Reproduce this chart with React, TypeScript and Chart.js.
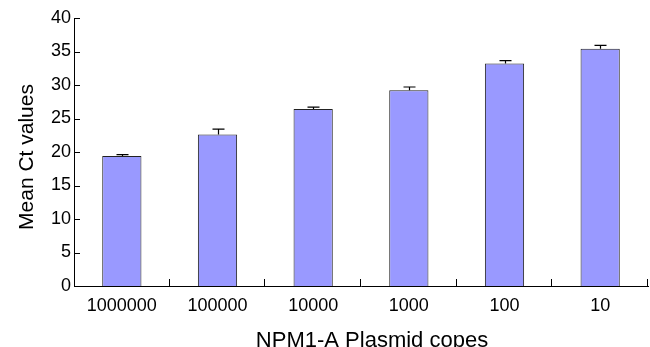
import React, { useEffect, useRef } from "react";
import { Chart, registerables } from "chart.js";

Chart.register(...registerables);

const categories = ["1000000", "100000", "10000", "1000", "100", "10"];
const meanCt = [19.4, 22.6, 26.4, 29.2, 33.2, 35.4];
const errorUp = [0.2, 0.8, 0.3, 0.5, 0.45, 0.5];
const yTicks = [0, 5, 10, 15, 20, 25, 30, 35, 40];
const xTitle = "NPM1-A Plasmid copes";
const yTitle = "Mean Ct values";

const FONT = "'Liberation Sans', Arial, Helvetica, sans-serif";

const decorPlugin = {
  id: "decor",
  afterDatasetsDraw(chart: any) {
    const ctx = chart.ctx;
    const ys = chart.scales.y;
    const area = chart.chartArea;
    ctx.save();
    // error bars
    const meta = chart.getDatasetMeta(0);
    ctx.strokeStyle = "#000";
    ctx.lineWidth = 1.2;
    meta.data.forEach((bar: any, i: number) => {
      const x = Math.round(bar.x) + 0.5;
      const yTop = ys.getPixelForValue(meanCt[i] + errorUp[i]);
      const yBar = ys.getPixelForValue(meanCt[i]);
      ctx.beginPath();
      ctx.moveTo(x, yBar);
      ctx.lineTo(x, yTop);
      ctx.moveTo(x - 6, yTop);
      ctx.lineTo(x + 6, yTop);
      ctx.stroke();
    });
    // y ticks (inward)
    ctx.lineWidth = 1;
    yTicks.forEach((v) => {
      const y = Math.round(ys.getPixelForValue(v)) + 0.5;
      ctx.beginPath();
      ctx.moveTo(area.left, y);
      ctx.lineTo(area.left + 6, y);
      ctx.stroke();
    });
    // x ticks (inward, between categories)
    const n = categories.length;
    const w = (area.right - area.left) / n;
    for (let i = 1; i <= n; i++) {
      const x = Math.round(area.left + i * w) - 0.5;
      ctx.beginPath();
      ctx.moveTo(x, area.bottom);
      ctx.lineTo(x, area.bottom - 7);
      ctx.stroke();
    }
    // titles
    ctx.fillStyle = "#000";
    ctx.textAlign = "center";
    ctx.textBaseline = "alphabetic";
    ctx.font = `22px ${FONT}`;
    ctx.fillText(xTitle, (area.left + area.right) / 2 + 11, 346.5);
    ctx.font = `21px ${FONT}`;
    ctx.save();
    ctx.translate(33, (area.top + area.bottom) / 2 + 5);
    ctx.rotate(-Math.PI / 2);
    ctx.fillText(yTitle, 0, 0);
    ctx.restore();
    ctx.restore();
  },
};

export default function App() {
  const ref = useRef<HTMLCanvasElement | null>(null);
  useEffect(() => {
    if (!ref.current) return;
    const chart = new Chart(ref.current, {
      type: "bar",
      data: {
        labels: categories,
        datasets: [
          {
            data: meanCt,
            backgroundColor: "#9999FF",
            borderColor: "#222",
            borderWidth: 1,
            barPercentage: 0.41,
            categoryPercentage: 1,
          },
        ],
      },
      options: {
        animation: false,
        responsive: true,
        maintainAspectRatio: false,
        layout: { padding: { top: 18, right: 2, left: 0, bottom: 0 } },
        plugins: {
          legend: { display: false },
          tooltip: { enabled: false },
          title: { display: false },
        },
        scales: {
          x: {
            grid: { display: false, drawTicks: false },
            border: { display: true, color: "#000", width: 1 },
            ticks: {
              color: "#000",
              font: { family: FONT, size: 18 },
              padding: 9,
              maxRotation: 0,
            },
            afterFit: (s: any) => {
              s.height = 61;
            },
          },
          y: {
            min: 0,
            max: 40,
            grid: { display: false, drawTicks: false },
            border: { display: true, color: "#000", width: 1 },
            ticks: {
              stepSize: 5,
              color: "#000",
              font: { family: FONT, size: 18 },
              padding: 3,
            },
            afterFit: (s: any) => {
              s.width = 74;
            },
          },
        },
      },
      plugins: [decorPlugin],
    });
    return () => chart.destroy();
  }, []);
  return (
    <div style={{ position: "fixed", left: 0, top: 0, width: 650, height: 347, background: "#fff" }}>
      <canvas ref={ref} />
    </div>
  );
}
